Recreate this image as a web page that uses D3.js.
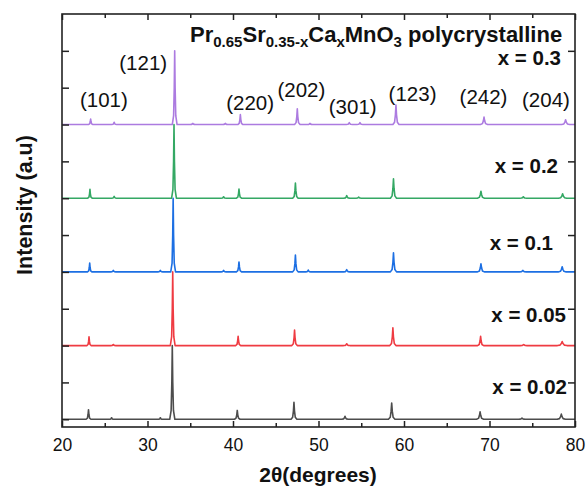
<!DOCTYPE html>
<html>
<head>
<meta charset="utf-8">
<script src="https://cdn.jsdelivr.net/npm/d3@7/dist/d3.min.js"></script>
<style>
  html, body { margin: 0; padding: 0; background: #fff; }
  svg { display: block; font-family: "Liberation Sans", Arial, sans-serif; }
</style>
</head>
<body>
<svg id="chart" width="586" height="489"></svg>
<script>
// XRD patterns of Pr0.65Sr0.35-xCaxMnO3, stacked with an offset of 2 units each.
// Each reflection: [2θ (deg), normalised intensity, half base width (deg)]
const samples = ["x = 0.02", "x = 0.05", "x = 0.1", "x = 0.2", "x = 0.3"];
const offsets = [0, 2, 4, 6, 8];
const colors = ["#4d4d4d", "#ef3b42", "#1c6fe3", "#34a864", "#ac7be0"];

const peaks002 = [
  [23.1, 0.26, 0.28], [25.8, 0.04, 0.3], [31.5, 0.04, 0.3], [32.9, 2.0, 0.3],
  [40.5, 0.24, 0.32], [47.13, 0.46, 0.34], [53.1, 0.08, 0.38], [58.56, 0.44, 0.38],
  [68.9, 0.2, 0.42], [73.8, 0.03, 0.4], [78.4, 0.14, 0.48]
];
const peaks005 = [
  [23.16, 0.24, 0.26], [26.0, 0.03, 0.3], [32.95, 2.0, 0.28], [40.6, 0.25, 0.3],
  [47.2, 0.42, 0.32], [53.3, 0.05, 0.36], [58.7, 0.48, 0.36], [68.96, 0.25, 0.36],
  [74.0, 0.03, 0.4], [78.5, 0.11, 0.55]
];
const peaks01 = [
  [23.24, 0.24, 0.26], [26.0, 0.04, 0.3], [31.5, 0.04, 0.3], [33.0, 2.0, 0.28],
  [38.9, 0.04, 0.3], [40.7, 0.27, 0.3], [47.3, 0.46, 0.32], [48.8, 0.05, 0.3],
  [53.3, 0.06, 0.36], [58.77, 0.52, 0.36], [69.0, 0.22, 0.4], [73.9, 0.04, 0.4],
  [78.5, 0.14, 0.46]
];
const peaks02 = [
  [23.27, 0.24, 0.26], [26.1, 0.05, 0.3], [33.1, 2.0, 0.28], [38.9, 0.04, 0.3],
  [40.7, 0.25, 0.3], [47.3, 0.41, 0.32], [53.3, 0.07, 0.36], [54.7, 0.03, 0.3],
  [58.77, 0.53, 0.36], [69.0, 0.19, 0.42], [73.95, 0.04, 0.4], [78.55, 0.12, 0.48]
];
const peaks03 = [
  [23.35, 0.15, 0.26], [26.1, 0.06, 0.3], [33.18, 2.0, 0.28], [35.3, 0.03, 0.3],
  [39.1, 0.03, 0.3], [40.86, 0.27, 0.3], [47.52, 0.43, 0.32], [49.0, 0.03, 0.3],
  [53.6, 0.05, 0.36], [54.85, 0.05, 0.36], [59.06, 0.53, 0.36], [69.36, 0.2, 0.42],
  [78.9, 0.13, 0.46]
];
const peakSets = [peaks002, peaks005, peaks01, peaks02, peaks03];

// Miller-index annotations: [label, 2θ position, intensity position]
const hkl = [
  ["(101)", 24.9, 8.48], ["(121)", 29.5, 9.48], ["(220)", 42.0, 8.4],
  ["(202)", 48.0, 8.75], ["(301)", 54.0, 8.28], ["(123)", 61.0, 8.65],
  ["(242)", 69.3, 8.56], ["(204)", 76.6, 8.47]
];

const xTicks = [20, 30, 40, 50, 60, 70, 80];
const xMinor = [25, 35, 45, 55, 65, 75];
const yTicksLeft = [0, 1, 2, 3, 4, 5, 6, 7, 8, 9, 10];
const yTicksRight = [1, 3, 5, 7, 10];
const xDomain = [20, 80];
const yDomain = [-0.21, 11.0];

const svg = d3.select("#chart");
const M = { left: 62, right: 575, top: 14, bottom: 427 };
const x = d3.scaleLinear().domain(xDomain).range([M.left, M.right]);
const y = d3.scaleLinear().domain(yDomain).range([M.bottom, M.top]);

// build a pattern polyline: flat baseline with sharp peak profiles
function patternPoints(set, off) {
  const pts = [[xDomain[0], off]];
  set.slice().sort((a, b) => a[0] - b[0]).forEach(([c, h, w]) => {
    pts.push([c - w, off]);
    pts.push([c - w * 0.45, off + h * 0.12]);
    pts.push([c - w * 0.18, off + h * 0.5]);
    pts.push([c, off + h]);
    pts.push([c + w * 0.18, off + h * 0.5]);
    pts.push([c + w * 0.45, off + h * 0.12]);
    pts.push([c + w, off]);
  });
  pts.push([xDomain[1], off]);
  return pts;
}

const line = d3.line().x(d => x(d[0])).y(d => y(d[1]));

const plot = svg.append("g");
plot.append("defs").append("clipPath").attr("id", "clip")
  .append("rect").attr("x", M.left).attr("y", M.top)
  .attr("width", M.right - M.left).attr("height", M.bottom - M.top);

const traces = plot.append("g").attr("clip-path", "url(#clip)");
peakSets.forEach((set, i) => {
  traces.append("path")
    .attr("d", line(patternPoints(set, offsets[i])))
    .attr("fill", "none")
    .attr("stroke", colors[i])
    .attr("stroke-width", 1.6)
    .attr("stroke-linejoin", "round");
});

// axes: ticks point inward on all four sides
const axisColor = "#222";
const bottom = svg.append("g").attr("transform", `translate(0,${M.bottom})`)
  .call(d3.axisBottom(x).tickValues(xTicks).tickSize(-6).tickPadding(12).tickFormat(d3.format("d")));
svg.append("g").attr("transform", `translate(0,${M.bottom})`)
  .call(d3.axisBottom(x).tickValues(xMinor).tickSize(-4).tickFormat(""));
svg.append("g").attr("transform", `translate(0,${M.top})`)
  .call(d3.axisTop(x).tickValues(xTicks).tickSize(-6).tickFormat(""));
svg.append("g").attr("transform", `translate(0,${M.top})`)
  .call(d3.axisTop(x).tickValues(xMinor).tickSize(-4).tickFormat(""));
svg.append("g").attr("transform", `translate(${M.left},0)`)
  .call(d3.axisLeft(y).tickValues(yTicksLeft).tickSize(-7).tickFormat(""));
svg.append("g").attr("transform", `translate(${M.right},0)`)
  .call(d3.axisRight(y).tickValues(yTicksRight).tickSize(-7).tickFormat(""));

svg.selectAll(".domain").remove();
svg.selectAll(".tick line").attr("stroke", axisColor).attr("stroke-width", 1.5);
bottom.selectAll(".tick text")
  .attr("font-size", 17.5).attr("fill", "#111")
  .attr("font-family", "'Liberation Sans', Arial, sans-serif");

svg.append("rect")
  .attr("x", M.left).attr("y", M.top)
  .attr("width", M.right - M.left).attr("height", M.bottom - M.top)
  .attr("fill", "none").attr("stroke", axisColor).attr("stroke-width", 1.6);

// axis titles
svg.append("text")
  .attr("x", 318).attr("y", 482)
  .attr("text-anchor", "middle").attr("font-size", 21).attr("font-weight", "bold")
  .attr("fill", "#111").text("2θ(degrees)");
svg.append("text")
  .attr("transform", `translate(32,205) rotate(-90)`)
  .attr("text-anchor", "middle").attr("font-size", 21.5).attr("font-weight", "bold")
  .attr("fill", "#111").text("Intensity (a.u)");

// compound title with subscripts
const title = svg.append("text")
  .attr("x", 190).attr("y", 41.5)
  .attr("font-size", 22).attr("font-weight", "bold").attr("fill", "#111");
const parts = [["Pr", false], ["0.65", true], ["Sr", false], ["0.35-x", true],
  ["Ca", false], ["x", true], ["MnO", false], ["3", true], [" polycrystalline", false]];
parts.forEach(([t, sub]) => {
  title.append("tspan")
    .attr("font-size", sub ? 15 : 22)
    .attr("baseline-shift", sub ? "-5" : null)
    .text(t);
});

// sample labels, right aligned
const labelY = [0.68, 2.65, 4.6, 6.68, 9.62];
const labelRight = [567, 566, 553, 558, 561];
samples.forEach((s, i) => {
  svg.append("text")
    .attr("x", labelRight[i]).attr("y", y(labelY[i]))
    .attr("text-anchor", "end").attr("font-size", 20.5).attr("font-weight", "bold")
    .attr("fill", "#111").text(s);
});

// reflection indices
hkl.forEach(([t, px, py]) => {
  svg.append("text")
    .attr("x", x(px)).attr("y", y(py))
    .attr("text-anchor", "middle").attr("font-size", 20.5)
    .attr("fill", "#111").text(t);
});
</script>
</body>
</html>
